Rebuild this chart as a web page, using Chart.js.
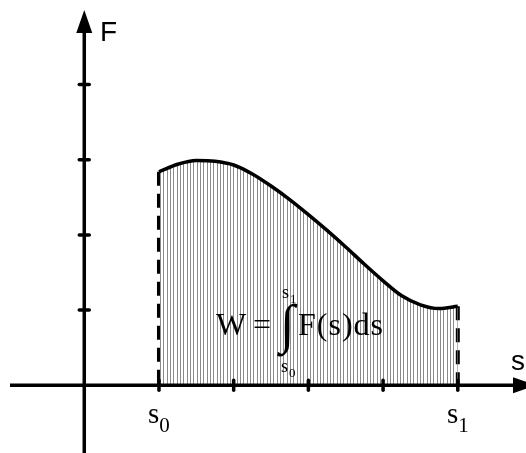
<!DOCTYPE html>
<html>
<head>
<meta charset="utf-8">
<script src="https://cdn.jsdelivr.net/npm/chart.js@4.4.1/dist/chart.umd.min.js"></script>
<style>
  html, body { margin: 0; padding: 0; background: #ffffff; }
  #wrap { width: 526px; height: 453px; }
</style>
</head>
<body>
<div id="wrap"><canvas id="workChart" width="526" height="453"></canvas></div>
<script>
// --- data ---
const sValues = [1.00, 1.25, 1.50, 1.75, 2.00, 2.25, 2.50, 2.75, 3.00, 3.25, 3.50, 3.75, 4.00, 4.25, 4.50, 4.75, 5.00];
const fValues = [2.84, 2.94, 2.99, 2.98, 2.93, 2.81, 2.65, 2.47, 2.27, 2.06, 1.84, 1.61, 1.39, 1.19, 1.07, 1.02, 1.05];
const xTickValues = [1, 2, 3, 4, 5];
const yTickValues = [1, 2, 3, 4];
const boundSubs = ['0', '1'];

const s0 = sValues[0];
const s1 = sValues[sValues.length - 1];

// vertical hatch pattern for the area under the curve
function makeHatch(ctx) {
  const c = document.createElement('canvas');
  c.width = 10; c.height = 10;
  const g = c.getContext('2d');
  g.fillStyle = '#8a8a8a';
  g.fillRect(0, 0, 1, 10);
  g.fillRect(3, 0, 1, 10);
  g.fillRect(7, 0, 1, 10);
  return ctx.createPattern(c, 'repeat');
}

function arrowHead(ctx, tipX, tipY, dir) {
  // dir: 'up' or 'right'
  const len = 23, half = 8;
  ctx.beginPath();
  if (dir === 'up') {
    ctx.moveTo(tipX, tipY);
    ctx.lineTo(tipX - half, tipY + len);
    ctx.lineTo(tipX + half, tipY + len);
  } else {
    ctx.moveTo(tipX, tipY);
    ctx.lineTo(tipX - len, tipY - half);
    ctx.lineTo(tipX - len, tipY + half);
  }
  ctx.closePath();
  ctx.fill();
}

// axes, ticks and texts
const axesPlugin = {
  id: 'axesPlugin',
  afterDatasetsDraw(chart) {
    const { ctx, scales: { x, y } } = chart;
    const x0 = x.getPixelForValue(0);
    const y0 = y.getPixelForValue(0);
    ctx.save();
    ctx.strokeStyle = '#000';
    ctx.fillStyle = '#000';
    ctx.lineWidth = 3.5;

    // x axis
    ctx.beginPath();
    ctx.moveTo(10, y0);
    ctx.lineTo(515, y0);
    ctx.stroke();
    arrowHead(ctx, 536, y0, 'right');

    // y axis
    ctx.beginPath();
    ctx.moveTo(x0, 453);
    ctx.lineTo(x0, 30);
    ctx.stroke();
    arrowHead(ctx, x0, 10, 'up');

    // tick marks
    ctx.lineCap = 'round';
    ctx.lineWidth = 3.5;
    xTickValues.forEach(v => {
      const px = x.getPixelForValue(v);
      ctx.beginPath();
      ctx.moveTo(px, y0 - 5);
      ctx.lineTo(px, y0 + 5);
      ctx.stroke();
    });
    yTickValues.forEach(v => {
      const py = y.getPixelForValue(v);
      ctx.beginPath();
      ctx.moveTo(x0 - 5, py);
      ctx.lineTo(x0 + 5, py);
      ctx.stroke();
    });

    // axis names
    ctx.textBaseline = 'alphabetic';
    ctx.textAlign = 'left';
    ctx.font = '28px "Liberation Sans"';
    ctx.fillText('F', 100, 41);
    ctx.fillText('s', 511, 370);

    // s0 / s1 under the axis
    [s0, s1].forEach((v, i) => {
      const px = x.getPixelForValue(v);
      ctx.font = '29px "Liberation Serif"';
      const w1 = ctx.measureText('s').width;
      ctx.font = '21px "Liberation Serif"';
      const w2 = ctx.measureText(boundSubs[i]).width;
      const left = px - (w1 + w2) / 2;
      ctx.font = '29px "Liberation Serif"';
      ctx.fillText('s', left, 423);
      ctx.font = '21px "Liberation Serif"';
      ctx.fillText(boundSubs[i], left + w1, 432);
    });

    // work formula
    ctx.font = '32px "Liberation Serif"';
    ctx.fillText('W', 216, 335);
    ctx.fillText('=', 253, 335);
    ctx.letterSpacing = '1px';
    ctx.fillText('F(s)ds', 298, 335);
    ctx.letterSpacing = '0px';
    ctx.font = '54px "Liberation Serif"';
    ctx.fillText('\u222B', 280, 342);
    ctx.font = '18px "Liberation Serif"';
    ctx.fillText('s', 282, 298);
    ctx.fillText('s', 281, 372);
    ctx.font = '13px "Liberation Serif"';
    ctx.fillText('1', 290, 303);
    ctx.fillText('0', 289, 377);
    ctx.restore();
  }
};

const canvas = document.getElementById('workChart');
const ctx = canvas.getContext('2d');

new Chart(ctx, {
  type: 'line',
  data: {
    datasets: [
      {
        data: sValues.map((s, i) => ({ x: s, y: fValues[i] })),
        borderColor: '#000',
        borderWidth: 3.5,
        fill: 'origin',
        backgroundColor: makeHatch(ctx),
        cubicInterpolationMode: 'monotone',
        pointRadius: 0
      },
      {
        data: [{ x: s0, y: fValues[0] }, { x: s0, y: 0 }],
        borderColor: '#000',
        borderWidth: 4,
        borderDash: [14, 8],
        fill: false,
        pointRadius: 0
      },
      {
        data: [{ x: s1, y: fValues[fValues.length - 1] }, { x: s1, y: 0 }],
        borderColor: '#000',
        borderWidth: 4,
        borderDash: [14, 8],
        fill: false,
        pointRadius: 0
      }
    ]
  },
  options: {
    responsive: false,
    animation: false,
    layout: { padding: 0 },
    plugins: {
      legend: { display: false },
      tooltip: { enabled: false }
    },
    scales: {
      x: { type: 'linear', display: false, min: -1.128, max: 5.913 },
      y: { type: 'linear', display: false, min: -0.9, max: 5.124 }
    }
  },
  plugins: [axesPlugin]
});
</script>
</body>
</html>
